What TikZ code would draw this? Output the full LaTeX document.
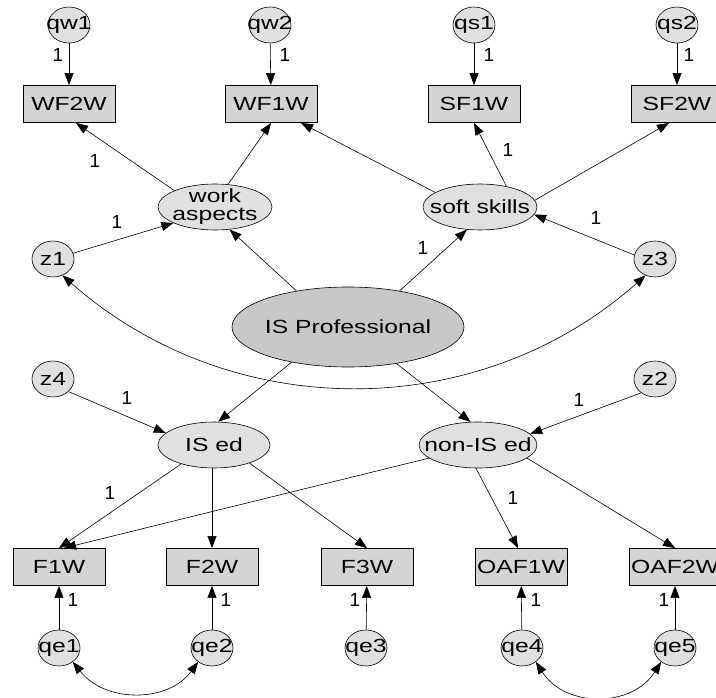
\documentclass[tikz,border=0pt]{standalone}
\usepackage{fontspec}
\setmainfont{Liberation Sans}
\usepackage{graphicx}
\usetikzlibrary{shapes.geometric,arrows.meta}
\newcommand\tx[1]{\scalebox{1.3}[1]{#1}}
\newcommand\zw[1]{\makebox[0pt]{\tx{#1}}}
\begin{document}
\begin{tikzpicture}[x=1pt,y=-1pt,
 font=\fontsize{19}{18}\selectfont,
 obs/.style={draw, line width=0.9pt, fill=black!17, minimum width=92pt, minimum height=37pt, inner sep=0pt},
 err/.style={ellipse, draw, line width=0.6pt, fill=black!12, minimum width=42pt, minimum height=36pt, inner sep=0pt},
 lat/.style={ellipse, draw, line width=0.6pt, fill=black!12, minimum width=114pt, minimum height=46pt, inner sep=0pt},
 arr/.style={-{Triangle[length=12pt,width=9pt]}, line width=0.6pt},
 dbl/.style={{Triangle[length=12pt,width=9pt]}-{Triangle[length=12pt,width=9pt]}, line width=0.6pt},
 one/.style={font=\fontsize{19}{19}\selectfont, inner sep=0pt}
]
\useasboundingbox[fill=white] (0,0) rectangle (716,698);

% top error terms and indicators
\node[err] (qw1) at (69,25) {\zw{qw1}};
\node[err] (qw2) at (270,25) {\zw{qw2}};
\node[err] (qs1) at (474,25) {\zw{qs1}};
\node[err] (qs2) at (677,25) {\zw{qs2}};
\node[obs] (WF2W) at (69,104) {\zw{WF2W}};
\node[obs] (WF1W) at (271,104) {\zw{WF1W}};
\node[obs] (SF1W) at (474,104) {\zw{SF1W}};
\node[obs] (SF2W) at (677,104) {\zw{SF2W}};

% latent
\node[lat, inner ysep=-8pt] (wa) at (215,207) {\makebox[0pt]{\tx{\begin{tabular}{@{}c@{}}work\\aspects\end{tabular}}}};
\node[lat] (ss) at (480,207) {\zw{soft skills}};
\node[err] (z1) at (53,259) {\zw{z1}};
\node[err] (z3) at (655,259) {\zw{z3}};
\node[lat, fill=black!22, minimum width=232pt, minimum height=80pt] (isp) at (348,327) {\zw{IS Professional}};
\node[err] (z4) at (53,379) {\zw{z4}};
\node[err] (z2) at (655,379) {\zw{z2}};
\node[lat, minimum width=112pt] (ised) at (214,445) {\zw{IS ed}};
\node[lat, minimum width=118pt] (nised) at (478,445) {\zw{non-IS ed}};

% bottom indicators and errors
\node[obs] (F1W) at (59,567) {\zw{F1W}};
\node[obs] (F2W) at (212,567) {\zw{F2W}};
\node[obs] (F3W) at (367,567) {\zw{F3W}};
\node[obs] (OAF1W) at (521,567) {\zw{OAF1W}};
\node[obs] (OAF2W) at (675,567) {\zw{OAF2W}};
\node[err] (qe1) at (59,648) {\zw{qe1}};
\node[err] (qe2) at (212,648) {\zw{qe2}};
\node[err] (qe3) at (366,648) {\zw{qe3}};
\node[err] (qe4) at (522,648) {\zw{qe4}};
\node[err] (qe5) at (675,648) {\zw{qe5}};

% arrows
\draw[arr] (qw1) -- (WF2W);
\draw[arr] (qw2) -- (WF1W);
\draw[arr] (qs1) -- (SF1W);
\draw[arr] (qs2) -- (SF2W);
\draw[arr] (wa.158) -- ([xshift=7pt]WF2W.south);
\draw[arr] (wa.60) -- (WF1W.south);
\draw[arr] (ss.162) -- ([xshift=30pt]WF1W.south);
\draw[arr] (ss.38) -- (SF1W.south);
\draw[arr] (ss.7) -- ([xshift=-8pt]SF2W.south);
\draw[arr] (z1.16) -- (wa.201);
\draw[arr] (z3.169) -- (ss.352);
\draw[arr] (isp.145) -- (wa.303);
\draw[arr] (isp.35) -- (ss.240);
\draw[arr] (isp.212) -- (ised.80);
\draw[arr] (isp.323) -- (nised.108);
\draw[arr] (z4.321) -- (ised.166);
\draw[arr] (z2.225) -- (nised.12);
\draw[arr] (ised.210) -- (F1W.north);
\draw[arr] (F2W.north |- ised.south) -- (F2W.north);
\draw[arr] (ised.333) -- (F3W.north);
\draw[arr] (nised.195) -- ([xshift=5pt]F1W.north);
\draw[arr] (nised.265) -- ([xshift=-3pt]OAF1W.north);
\draw[arr] (nised.345) -- (OAF2W.north);
\draw[arr] (qe1) -- (F1W);
\draw[arr] (qe2) -- (F2W);
\draw[arr] (qe3) -- (F3W);
\draw[arr] (qe4) -- (OAF1W);
\draw[arr] (qe5) -- (OAF2W);

% covariances
\draw[dbl] (z1.300) .. controls (231,424) and (478,424) .. (z3.240);
\draw[dbl] (qe1.-45) .. controls (105,703) and (168,703) .. (qe2.225);
\draw[dbl] (qe4.-45) .. controls (565,708) and (632,708) .. (qe5.225);

% labels
\node[one] (l1) at (58,55) {1};
\node[one] (l2) at (285,55) {1};
\node[one] (l3) at (489,55) {1};
\node[one] (l4) at (689,55) {1};
\node[one] (l5) at (95,161) {1};
\node[one] (l6) at (117,222) {1};
\node[one] (l7) at (508,150) {1};
\node[one] (l8) at (596,218) {1};
\node[one] (l9) at (423,248) {1};
\node[one] (l10) at (127,398) {1};
\node[one] (l11) at (579,400) {1};
\node[one] (l12) at (110,493) {1};
\node[one] (l13) at (513,498) {1};
\node[one] (l14) at (73,600) {1};
\node[one] (l15) at (226,600) {1};
\node[one] (l16) at (355,600) {1};
\node[one] (l17) at (536,600) {1};
\node[one] (l18) at (664,600) {1};
\end{tikzpicture}
\end{document}
